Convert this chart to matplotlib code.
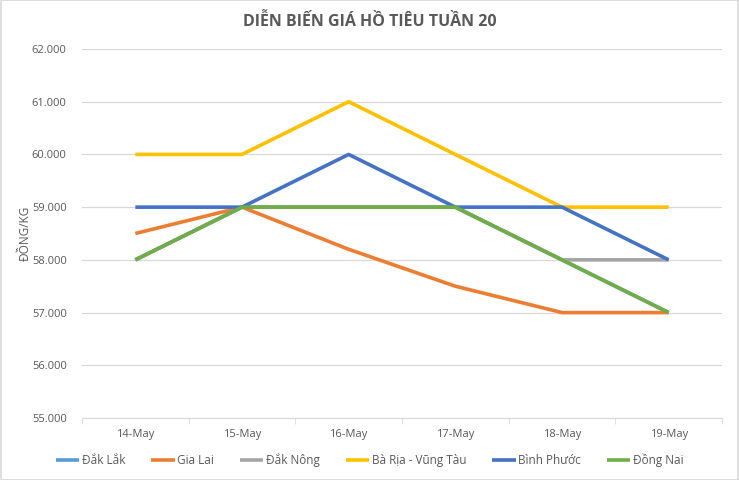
import numpy as np
import matplotlib.pyplot as plt
from matplotlib.ticker import FuncFormatter, FixedLocator

plt.rcParams['font.family'] = ['Open Sans', 'DejaVu Sans']

dates = ["14-May", "15-May", "16-May", "17-May", "18-May", "19-May"]
dak_lak = [58000, 59000, 59000, 59000, 58000, 57000]
gia_lai = [58500, 59000, 58200, 57500, 57000, 57000]
dak_nong = [58000, 59000, 59000, 59000, 58000, 58000]
ba_ria = [60000, 60000, 61000, 60000, 59000, 59000]
binh_phuoc = [59000, 59000, 60000, 59000, 59000, 58000]
dong_nai = [58000, 59000, 59000, 59000, 58000, 57000]

series = [
    ("Đắk Lắk", dak_lak, "#5B9BD5"),
    ("Gia Lai", gia_lai, "#ED7D31"),
    ("Đắk Nông", dak_nong, "#A5A5A5"),
    ("Bà Rịa - Vũng Tàu", ba_ria, "#FFC000"),
    ("Bình Phước", binh_phuoc, "#4472C4"),
    ("Đồng Nai", dong_nai, "#70AD47"),
]

fig = plt.figure(figsize=(7.39, 4.8), dpi=100)
ax = fig.add_axes([82 / 739, 1 - 418 / 480, 640 / 739, 369 / 480])

x = np.arange(len(dates))
for name, vals, col in series:
    ax.plot(x, vals, color=col, lw=2.6, label=name, solid_capstyle='butt')

ax.set_xlim(-0.5, len(dates) - 0.5)
ax.set_ylim(55000, 62000)
ax.set_yticks(np.arange(55000, 62001, 1000))
ax.yaxis.set_major_formatter(FuncFormatter(lambda v, p: f"{int(v):,}".replace(",", ".")))
ax.set_xticks(x)
ax.set_xticklabels(dates)
ax.xaxis.set_minor_locator(FixedLocator(np.arange(-0.5, len(dates), 1.0)))

ax.grid(axis='y', color='#D9D9D9', lw=0.9)
ax.set_axisbelow(True)
for s in ['top', 'right', 'left']:
    ax.spines[s].set_visible(False)
ax.spines['bottom'].set_color('#D9D9D9')
ax.tick_params(axis='y', length=0, labelsize=8, labelcolor='#595959', pad=11)
ax.tick_params(axis='x', which='major', length=0, labelsize=8, labelcolor='#595959', pad=8)
ax.tick_params(axis='x', which='minor', length=4, color='#D9D9D9')

ax.set_ylabel("ĐỒNG/KG", fontsize=8.5, color='#595959')
ax.yaxis.set_label_coords(-50 / 640, 0.5)
fig.text(0.5, 1 - 22 / 480, "DIỄN BIẾN GIÁ HỒ TIÊU TUẦN 20", ha='center', va='center',
         fontsize=11.5, fontweight='bold', color='#595959')

fig.legend(loc='center', bbox_to_anchor=(0.5, 1 - 460 / 480), ncol=6, frameon=False,
           fontsize=8.5, labelcolor='#595959', handlelength=2.0, handletextpad=0.2,
           columnspacing=2.2)

border = plt.Rectangle((0.001, 0.001), 0.998, 0.998, transform=fig.transFigure,
                       fill=False, edgecolor='#D9D9D9', lw=1.2)
fig.patches.append(border)

fig.savefig("out.png", dpi=100)
